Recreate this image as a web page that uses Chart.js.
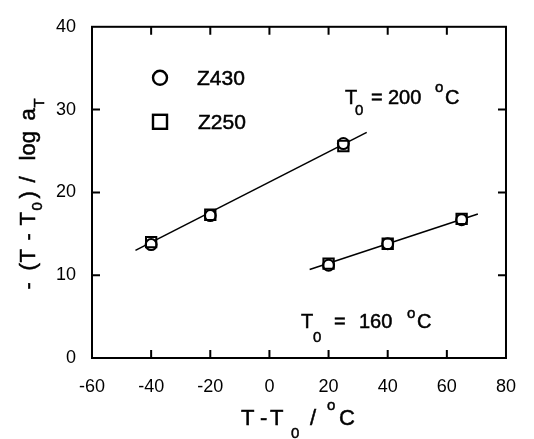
<!DOCTYPE html>
<html><head><meta charset="utf-8">
<script src="https://cdn.jsdelivr.net/npm/chart.js@4.4.0/dist/chart.umd.min.js"></script>
<style>html,body{margin:0;padding:0;background:#fff}#wrap{width:534px;height:439px}</style>
</head><body><div id="wrap"><canvas id="c" width="534" height="439"></canvas></div>
<script>
// ---- data ----
const xTicks = [-60, -40, -20, 0, 20, 40, 60, 80];
const yTicks = [0, 10, 20, 30, 40];
const seriesNames = ['Z430', 'Z250'];
const x200 = [-40, -20, 25];
const z430_200 = [13.7, 17.2, 25.9];
const z250_200 = [14.0, 17.3, 25.6];
const x160 = [20, 40, 65];
const z430_160 = [11.2, 13.8, 16.7];
const z250_160 = [11.4, 13.8, 16.8];
const fitX200 = [-45.3, 32.9];
const fitY200 = [13.0, 27.25];
const fitX160 = [13.6, 70.5];
const fitY160 = [10.7, 17.4];

const FF = '"Liberation Sans", Arial, Helvetica, sans-serif';
const pts = (xs, ys) => xs.map((x, i) => ({x: x, y: ys[i]}));

function circleSet(label, data) {
  return {label, data, pointStyle: 'circle', pointRadius: 5.5, pointBorderWidth: 2,
    pointBackgroundColor: '#fff', pointBorderColor: '#000', showLine: false, order: 2};
}
function squareSet(label, data) {
  return {label, data, pointStyle: 'rect', pointRadius: 7.3, pointBorderWidth: 2,
    pointBackgroundColor: 'rgba(0,0,0,0)', pointBorderColor: '#000', showLine: false, order: 1};
}
function lineSet(label, data) {
  return {label, data, showLine: true, pointRadius: 0, borderColor: '#000', borderWidth: 1.6, order: 3};
}

function drawRich(ctx, x, y, segs, base) {
  ctx.lineWidth = 0.5;
  for (const s of segs) {
    ctx.font = (s.size || base) + 'px ' + FF;
    ctx.fillText(s.t, x + s.dx, y + (s.dy || 0));
    ctx.strokeText(s.t, x + s.dx, y + (s.dy || 0));
  }
}

const decor = {
  id: 'decor',
  afterDraw(chart) {
    const ctx = chart.ctx, ca = chart.chartArea, xs = chart.scales.x, ys = chart.scales.y;
    ctx.save();
    ctx.strokeStyle = '#000';
    ctx.fillStyle = '#000';
    ctx.lineWidth = 2;
    ctx.strokeRect(ca.left, ca.top, ca.right - ca.left, ca.bottom - ca.top);
    const TL = 8;
    ctx.beginPath();
    xTicks.slice(1, -1).forEach(v => {
      const p = xs.getPixelForValue(v);
      ctx.moveTo(p, ca.bottom); ctx.lineTo(p, ca.bottom - TL);
      ctx.moveTo(p, ca.top); ctx.lineTo(p, ca.top + TL);
    });
    yTicks.slice(1, -1).forEach(v => {
      const p = ys.getPixelForValue(v);
      ctx.moveTo(ca.left, p); ctx.lineTo(ca.left + TL, p);
      ctx.moveTo(ca.right, p); ctx.lineTo(ca.right - TL, p);
    });
    ctx.stroke();

    // legend
    const lx = ca.left + 68;
    ctx.lineWidth = 2.4;
    ctx.beginPath();
    ctx.arc(lx, ca.top + 51, 7, 0, Math.PI * 2);
    ctx.fillStyle = '#fff';
    ctx.fill();
    ctx.stroke();
    ctx.strokeRect(lx - 7, ca.top + 88, 14, 14);
    ctx.fillStyle = '#000';
    ctx.textAlign = 'left';
    ctx.textBaseline = 'alphabetic';
    ctx.font = '21px ' + FF;
    ctx.lineWidth = 0.5;
    ctx.fillText(seriesNames[0], ca.left + 105, ca.top + 58);
    ctx.strokeText(seriesNames[0], ca.left + 105, ca.top + 58);
    ctx.fillText(seriesNames[1], ca.left + 106, ca.top + 102);
    ctx.strokeText(seriesNames[1], ca.left + 106, ca.top + 102);

    // annotations
    drawRich(ctx, ca.left + 253, ca.top + 77, [
      {t: 'T', dx: 0}, {t: '0', dx: 10, dy: 11, size: 15}, {t: '=', dx: 26},
      {t: '200', dx: 43}, {t: 'o', dx: 90, dy: -12, size: 15}, {t: 'C', dx: 100}], 20);
    drawRich(ctx, ca.left + 209, ca.top + 301, [
      {t: 'T', dx: 0}, {t: '0', dx: 12, dy: 14, size: 15}, {t: '=', dx: 33},
      {t: '160', dx: 58}, {t: 'o', dx: 106, dy: -10, size: 15}, {t: 'C', dx: 116}], 20);

    // x title
    const cx = (ca.left + ca.right) / 2;
    drawRich(ctx, cx - 58, 425, [
      {t: 'T', dx: 0}, {t: '-', dx: 19}, {t: 'T', dx: 29}, {t: '0', dx: 50, dy: 13, size: 15},
      {t: '/', dx: 69}, {t: 'o', dx: 86, dy: -15, size: 15}, {t: 'C', dx: 98}], 22);

    // y title (rotated)
    const cy = (ca.top + ca.bottom) / 2;
    ctx.translate(35, cy + 97);
    ctx.rotate(-Math.PI / 2);
    drawRich(ctx, 0, 0, [
      {t: '-', dx: 0}, {t: '(', dx: 19}, {t: 'T', dx: 27}, {t: '-', dx: 49}, {t: 'T', dx: 64},
      {t: '0', dx: 79, dy: 7, size: 15}, {t: ')', dx: 91}, {t: '/', dx: 107}, {t: 'log', dx: 129},
      {t: 'a', dx: 169}, {t: 'T', dx: 182, dy: 9, size: 15}], 22);
    ctx.restore();
  }
};

new Chart(document.getElementById('c'), {
  type: 'scatter',
  data: {
    datasets: [
      circleSet(seriesNames[0] + ' 200', pts(x200, z430_200)),
      squareSet(seriesNames[1] + ' 200', pts(x200, z250_200)),
      circleSet(seriesNames[0] + ' 160', pts(x160, z430_160)),
      squareSet(seriesNames[1] + ' 160', pts(x160, z250_160)),
      lineSet('fit 200', pts(fitX200, fitY200)),
      lineSet('fit 160', pts(fitX160, fitY160))
    ]
  },
  options: {
    responsive: false,
    animation: false,
    layout: {padding: {left: 0, top: 17, right: 22, bottom: 0}},
    plugins: {legend: {display: false}, tooltip: {enabled: false}},
    scales: {
      x: {
        type: 'linear', min: -60, max: 80,
        afterBuildTicks: s => { s.ticks = xTicks.map(v => ({value: v})); },
        afterFit: s => { s.height = 81; },
        grid: {display: false, drawTicks: false},
        border: {display: false},
        ticks: {font: {family: FF, size: 18}, color: '#000', padding: 18, maxRotation: 0, autoSkip: false}
      },
      y: {
        type: 'linear', min: 0, max: 40,
        afterBuildTicks: s => { s.ticks = yTicks.map(v => ({value: v})); },
        afterFit: s => { s.width = 92; },
        grid: {display: false, drawTicks: false},
        border: {display: false},
        ticks: {font: {family: FF, size: 18}, color: '#000', padding: 16, autoSkip: false}
      }
    }
  },
  plugins: [decor]
});
</script>
</body></html>
